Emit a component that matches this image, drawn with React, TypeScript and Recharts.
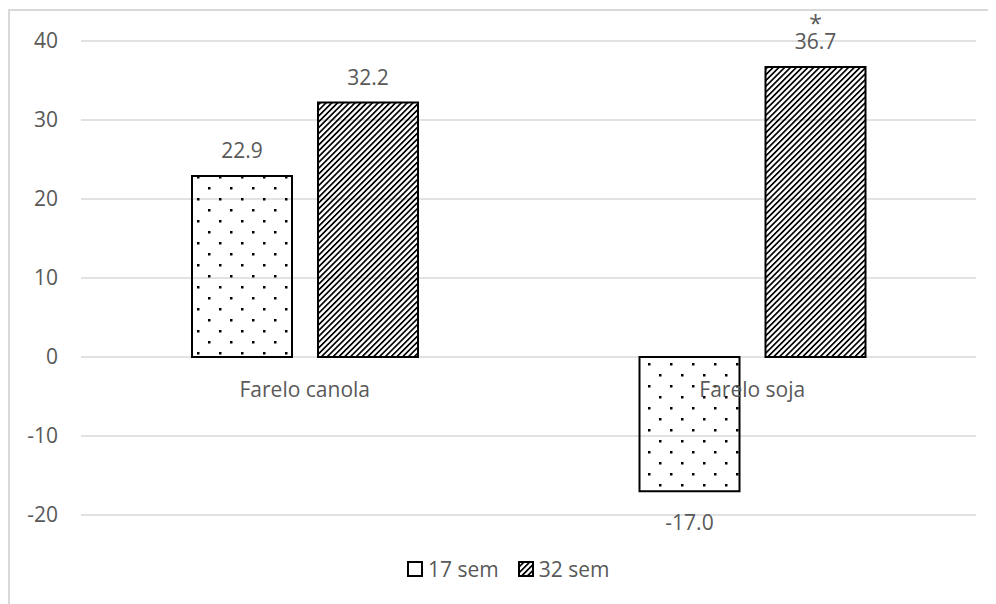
import React from "react";
import { BarChart, Bar, XAxis, YAxis, CartesianGrid, LabelList, ReferenceDot } from "recharts";

const categories = ["Farelo canola", "Farelo soja"];
const sem17 = [22.9, -17.0];
const sem32 = [32.2, 36.7];
const sig32 = ["", "*"];
const seriesNames = ["17 sem", "32 sem"];
const yTicks = [-20, -10, 0, 10, 20, 30, 40];

const data = categories.map((c, i) => ({ name: c, s17: sem17[i], s32: sem32[i] }));

const FONT = "'Open Sans', sans-serif";
const TXT = "#595959";
const FS = 21;

const makeLabel = (sig?: string[]) => (props: any) => {
  const vb = props.viewBox || {};
  const x = props.x ?? vb.x;
  const y = props.y ?? vb.y;
  const w = props.width ?? vb.width;
  const h = props.height ?? vb.height;
  const value = Number(props.value);
  const top = Math.min(y, y + h);
  const bottom = Math.max(y, y + h);
  const cx = x + w / 2;
  const ty = value < 0 ? bottom + 39 : top - 18;
  const s = sig ? sig[props.index] : "";
  return (
    <g>
      <text x={cx} y={ty} textAnchor="middle" fill={TXT} fontSize={FS} fontFamily={FONT}>
        {value.toFixed(1)}
      </text>
      {s ? (
        <text x={cx} y={ty - 17} textAnchor="middle" fill={TXT} fontSize={FS + 2} fontFamily={FONT}>
          {s}
        </text>
      ) : null}
    </g>
  );
};

const catLabel = (name: string) => (props: any) => {
  const vb = props.viewBox || {};
  const cx = vb.x + (vb.width || 0) / 2;
  const cy = vb.y + (vb.height || 0) / 2;
  return (
    <text x={cx} y={cy + 40} textAnchor="middle" fill={TXT} fontSize={FS} fontFamily={FONT}>
      {name}
    </text>
  );
};

const Defs = () => (
  <defs>
    <pattern id="dots" patternUnits="userSpaceOnUse" width="22" height="22" x="189" y="168">
      <rect x="0" y="0" width="2.5" height="2.5" fill="#000" />
      <rect x="11" y="11" width="2.5" height="2.5" fill="#000" />
    </pattern>
    <pattern id="hatch" patternUnits="userSpaceOnUse" width="4.1" height="4.1" patternTransform="rotate(45)">
      <rect x="0" y="0" width="1.7" height="4.1" fill="#000" />
    </pattern>
  </defs>
);

const LegendBox = ({ fill }: { fill: string }) => (
  <svg width="16" height="16" style={{ display: "block", marginRight: 5 }}>
    <defs>
      <pattern id="lhatch" patternUnits="userSpaceOnUse" width="4.1" height="4.1" patternTransform="rotate(45)">
        <rect x="0" y="0" width="1.7" height="4.1" fill="#000" />
      </pattern>
    </defs>
    <rect x="1" y="1" width="14" height="14" fill={fill} stroke="#000" strokeWidth="2" />
  </svg>
);

export default function App() {
  return (
    <div style={{ position: "relative", width: 988, height: 596, fontFamily: FONT, background: "#fff", overflow: "hidden" }}>
      <div
        style={{
          position: "absolute",
          left: 0,
          top: 1,
          width: 1000,
          height: 700,
          borderLeft: "2px solid #d9d9d9",
          borderTop: "2px solid #d9d9d9",
        }}
      />
      <div style={{ position: "absolute", left: 0, top: 0 }}>
        <BarChart
          width={988}
          height={596}
          data={data}
          margin={{ top: 33, right: 20, bottom: 89, left: 0 }}
          barGap={26}
          barSize={100}
        >
          <Defs />
          <CartesianGrid vertical={false} stroke="#d9d9d9" strokeWidth={1.5} />
          <XAxis dataKey="name" hide />
          <YAxis
            width={73}
            domain={[-20, 40]}
            ticks={yTicks}
            axisLine={false}
            tickLine={false}
            tickSize={0}
            tickMargin={23}
            tick={{ fill: TXT, fontSize: FS, fontFamily: FONT }}
          />
          <Bar dataKey="s17" name={seriesNames[0]} fill="url(#dots)" stroke="#000" strokeWidth={2} isAnimationActive={false}>
            <LabelList dataKey="s17" content={makeLabel()} />
          </Bar>
          <Bar dataKey="s32" name={seriesNames[1]} fill="url(#hatch)" stroke="#000" strokeWidth={2} isAnimationActive={false}>
            <LabelList dataKey="s32" content={makeLabel(sig32)} />
          </Bar>
          {categories.map((c) => (
            <ReferenceDot key={c} x={c} y={0} r={1} fill="none" stroke="none" label={catLabel(c)} />
          ))}
        </BarChart>
      </div>
      <div
        style={{
          position: "absolute",
          left: 399,
          top: 546.6,
          display: "flex",
          alignItems: "center",
          lineHeight: "29px",
          fontSize: FS,
          color: TXT,
        }}
      >
        <div style={{ display: "flex", alignItems: "center", marginRight: 19 }}>
          <LegendBox fill="#fff" />
          <span>{seriesNames[0]}</span>
        </div>
        <div style={{ display: "flex", alignItems: "center" }}>
          <LegendBox fill="url(#lhatch)" />
          <span>{seriesNames[1]}</span>
        </div>
      </div>
    </div>
  );
}
